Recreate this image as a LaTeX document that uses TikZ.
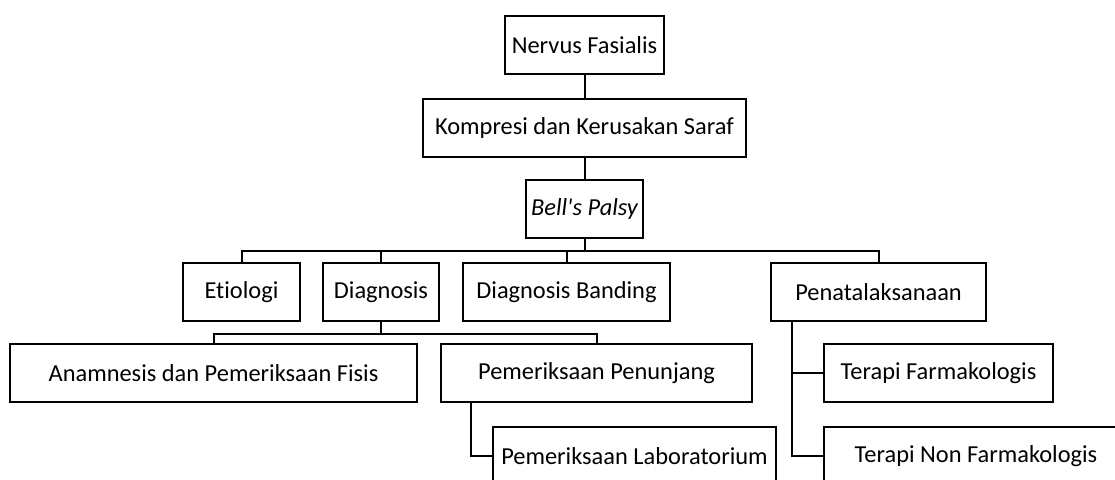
\documentclass[tikz,border=0pt]{standalone}
\usepackage{fontspec}
\setmainfont{Carlito}[Ligatures={NoCommon,TeXOff}]
\usetikzlibrary{positioning,calc}
\tikzset{
  box/.style={draw=black,line width=1pt,minimum width=#1,minimum height=29pt,
    inner sep=0pt,align=center,font=\fontsize{12.2}{14}\selectfont},
  box/.default=60pt,
  link/.style={draw=black,line width=1pt},
}

\begin{document}
\begin{tikzpicture}[x=0.5pt,y=-0.5pt]
    \clip (0,0) rectangle (1115,480);
    % top chain
    \node[box=79.5pt] (nerv) at (584.5,45) {Nervus Fasialis};
    \node[box=161.5pt] (komp) at (584.5,128) {Kompresi dan Kerusakan Saraf};
    \node[box=58.5pt] (bell) at (584.5,209.5) {\itshape Bell's Palsy};
    \draw[link] (nerv.south) -- (komp.north);
    \draw[link] (komp.south) -- (bell.north);
    % second row
    \node[box=58.5pt] (etio) at (241.5,292) {Etiologi};
    \node[box=58pt] (diag) at (381,292) {Diagnosis};
    \node[box=103.5pt] (band) at (566.5,292) {Diagnosis Banding};
    \node[box=107.5pt] (pena) at (878.5,292) {Penatalaksanaan};
    \coordinate (bus) at (0,251);
    \foreach \n in {etio,diag,band,pena}
      \draw[link] (bell.south) -- (bell.south |- bus) -| (\n.north);
    % diagnosis branch
    \node[box=203.5pt] (anam) at (213.5,373.5) {Anamnesis dan Pemeriksaan Fisis};
    \node[box=155.5pt] (penu) at (596.5,373.5) {Pemeriksaan Penunjang};
    \node[box=141.5pt] (labo) at (634.5,456) {Pemeriksaan Laboratorium};
    \coordinate (sub) at (0,334);
    \foreach \n in {anam,penu}
      \draw[link] (diag.south) -- (diag.south |- sub) -| (\n.north);
    \draw[link] ([xshift=15.5pt]penu.south west) |- (labo.west);
    % therapy branch
    \node[box=114.5pt] (farm) at (938.5,373.5) {Terapi Farmakologis};
    \node[box=152pt] (nonf) at (976,456) {Terapi Non Farmakologis};
    \draw[link] ([xshift=11pt]pena.south west) |- (farm.west);
    \draw[link] ([xshift=11pt]pena.south west) |- (nonf.west);
\end{tikzpicture}
\end{document}
